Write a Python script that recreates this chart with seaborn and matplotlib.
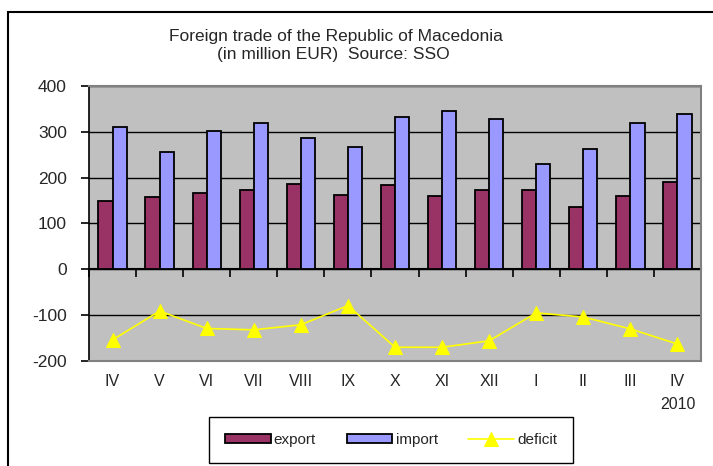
import matplotlib
matplotlib.use("Agg")
import matplotlib.pyplot as plt
import matplotlib.patches as mpatches
import pandas as pd
import seaborn as sns

# values (million EUR)
months = ["IV", "V", "VI", "VII", "VIII", "IX", "X", "XI", "XII", "I", "II", "III", "IV\n2010"]
export = [149, 158, 167, 172, 186, 163, 183, 161, 172, 172, 136, 161, 191]
imports = [310, 256, 301, 320, 286, 267, 332, 345, 328, 230, 263, 320, 339]
deficit = [-154, -91, -129, -132, -121, -79, -170, -170, -156, -95, -104, -130, -163]
y_ticks = [-200, -100, 0, 100, 200, 300, 400]

df = pd.DataFrame({
    "month": months * 2,
    "value": export + imports,
    "series": ["export"] * len(months) + ["import"] * len(months),
})

sns.set_style("white")
plt.rcParams["font.family"] = ["Liberation Sans", "DejaVu Sans"]
plt.rcParams["axes.unicode_minus"] = False

fig = plt.figure(figsize=(7.13, 4.66), dpi=100)
ax = fig.add_axes([89 / 713, 1 - 361 / 466, (701 - 89) / 713, (361 - 86) / 466])
ax.set_facecolor("#C0C0C0")

sns.barplot(data=df, x="month", y="value", hue="series",
            palette={"export": "#993366", "import": "#9999FF"},
            width=0.6, saturation=1, edgecolor="black", linewidth=1.3, ax=ax)
sns.lineplot(x=months, y=deficit, sort=False, color="#FFFF00", lw=1.2,
             marker="^", markersize=10, markeredgecolor="#FFFF00",
             label="deficit", ax=ax)

ax.set_ylim(-200, 400)
ax.set_xlim(-0.5, len(months) - 0.5)
ax.set_yticks(y_ticks)
ax.set_axisbelow(True)
ax.yaxis.grid(True, color="black", lw=1)
ax.set_xlabel("")
ax.set_ylabel("")

for side in ["top", "right", "bottom"]:
    ax.spines[side].set_color("#808080")
    ax.spines[side].set_linewidth(1.5)
ax.spines["left"].set_color("black")
ax.spines["left"].set_linewidth(1.2)

ax.tick_params(axis="y", direction="out", length=6, width=1.2, color="black",
               pad=10, labelsize=12.5, left=True)
ax.tick_params(axis="x", length=0, pad=9, labelsize=11.5)
for lab in ax.get_xticklabels():
    lab.set_linespacing(1.7)
    lab.set_verticalalignment("top")

# category axis crossing at zero
sec = ax.secondary_xaxis(0, transform=ax.transData)
sec.set_xticks([i - 0.5 for i in range(len(months) + 1)])
sec.set_xticklabels([])
sec.tick_params(direction="out", length=6, width=1.2, color="black")
sec.spines["bottom"].set_color("black")
sec.spines["bottom"].set_linewidth(1.5)

handles, labels = ax.get_legend_handles_labels()
ax.legend(handles, labels, loc="center", ncol=3,
          bbox_to_anchor=(391 / 713, 1 - 440 / 466), bbox_transform=fig.transFigure,
          frameon=True, fancybox=False, edgecolor="black", framealpha=1,
          fontsize=11, handlelength=3.0, handleheight=0.45, handletextpad=0.2,
          columnspacing=2.0, borderpad=0.55, borderaxespad=0)
ax.get_legend().get_frame().set_boxstyle("square", pad=0.5)

fig.text(336 / 713, 1 - 36 / 466, "Foreign trade of the Republic of Macedonia",
         ha="center", va="center", fontsize=12.5)
fig.text(333 / 713, 1 - 54 / 466, "(in million EUR)  Source: SSO",
         ha="center", va="center", fontsize=12.5)

fig.add_artist(mpatches.Rectangle((8 / 713, -0.05), 1.0, 1 - 12 / 466 + 0.05,
                                  transform=fig.transFigure, fill=False,
                                  edgecolor="black", lw=1.5))

fig.savefig("out.png", dpi=100)
